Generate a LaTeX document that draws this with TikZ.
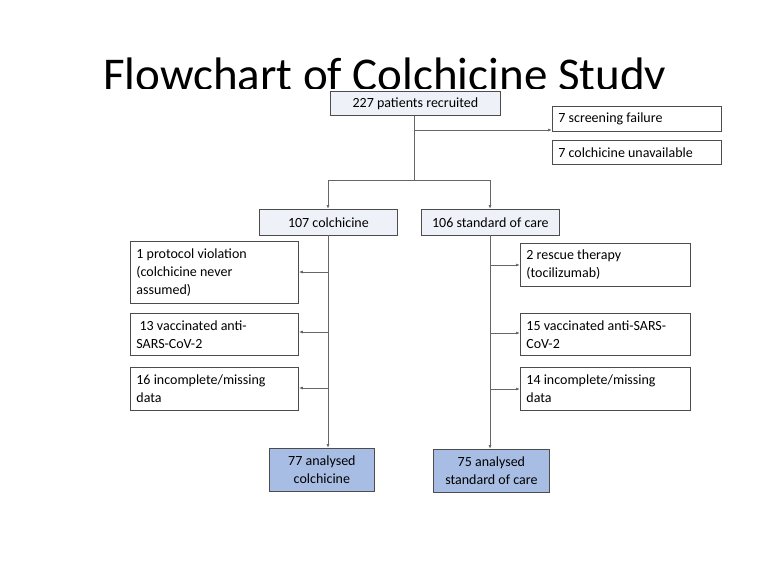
\documentclass[tikz,border=0pt]{standalone}
\usepackage{fontspec}
\setmainfont{Carlito}
\usetikzlibrary{arrows.meta}
\definecolor{lb}{HTML}{EEF1F8}
\definecolor{db}{HTML}{A8BDE3}
\begin{document}
\begin{tikzpicture}[x=1pt,y=-1pt,
  box/.style={draw=black!70,line width=0.8pt,inner ysep=4pt,anchor=north west,font=\fontsize{14}{18}\selectfont},
  lbox/.style={box,align=flush left,inner xsep=6pt},
  cbox/.style={box,align=center,inner xsep=2pt},
  arr/.style={draw=black!60,line width=0.8pt,-{Latex[length=4pt,width=3pt]}},
  ln/.style={draw=black!60,line width=0.8pt}]
\useasboundingbox (0,0) rectangle (768,576);
\begin{scope}
\clip (0,0) rectangle (768,88);
\node[anchor=base west,inner sep=0pt,font=\fontsize{47}{52}\selectfont] (title) at (103,90) {\smash{Flowchart of Colchicine Study}};
\end{scope}
% boxes
\node[cbox,fill=lb,minimum width=170,minimum height=24,inner ysep=2pt] (rec) at (330,91) {227 patients recruited};
\node[lbox,minimum width=169,minimum height=25,text width=157,inner ysep=2pt] (scr) at (552,106) {7 screening failure};
\node[lbox,minimum width=169,minimum height=24,text width=157,inner ysep=2pt] (una) at (552,140) {7 colchicine unavailable};
\node[cbox,fill=lb,minimum width=138,minimum height=26,inner ysep=2pt] (col) at (259,209) {107 colchicine};
\node[cbox,fill=lb,minimum width=138,minimum height=26,inner ysep=2pt] (soc) at (421,209) {106 standard of care};
\node[lbox,minimum width=168,minimum height=62,text width=156] (l1) at (130,241) {1 protocol violation\\(colchicine never\\assumed)};
\node[lbox,minimum width=168,minimum height=42,text width=156] (l2) at (130,313) {\ 13 vaccinated anti-\\SARS-CoV-2};
\node[lbox,minimum width=168,minimum height=43,text width=156] (l3) at (130,367) {16 incomplete/missing\\data};
\node[lbox,minimum width=170,minimum height=43,text width=158] (r1) at (520,243) {2 rescue therapy\\(tocilizumab)};
\node[lbox,minimum width=170,minimum height=42,text width=158] (r2) at (520,313) {15 vaccinated anti-SARS-\\CoV-2};
\node[lbox,minimum width=170,minimum height=43,text width=158] (r3) at (520,367) {14 incomplete/missing\\data};
\node[cbox,fill=db,minimum width=105,minimum height=43] (a1) at (269,448) {77 analysed\\colchicine};
\node[cbox,fill=db,minimum width=116,minimum height=43] (a2) at (433,449) {75 analysed\\standard of care};
% connectors
\coordinate (j) at (414,180);
\coordinate (h) at (414,130);
\draw[ln] (rec.south -| h) -- (j);
\draw[arr] (h) -- (scr.west |- h);
\draw[ln] (328,180) -- (490,180);
\draw[arr] (328,180) -- (328,209);
\draw[arr] (490,180) -- (490,209);
\draw[arr] (328,235) -- (a1.north -| 328,0);
\draw[arr] (490,235) -- (a2.north -| 490,0);
\draw[arr] (328,272) -- (l1.east |- 0,272);
\draw[arr] (328,332) -- (l2.east |- 0,332);
\draw[arr] (328,388) -- (l3.east |- 0,388);
\draw[arr] (490,265) -- (r1.west |- 0,265);
\draw[arr] (490,333) -- (r2.west |- 0,333);
\draw[arr] (490,389) -- (r3.west |- 0,389);
\end{tikzpicture}
\end{document}
